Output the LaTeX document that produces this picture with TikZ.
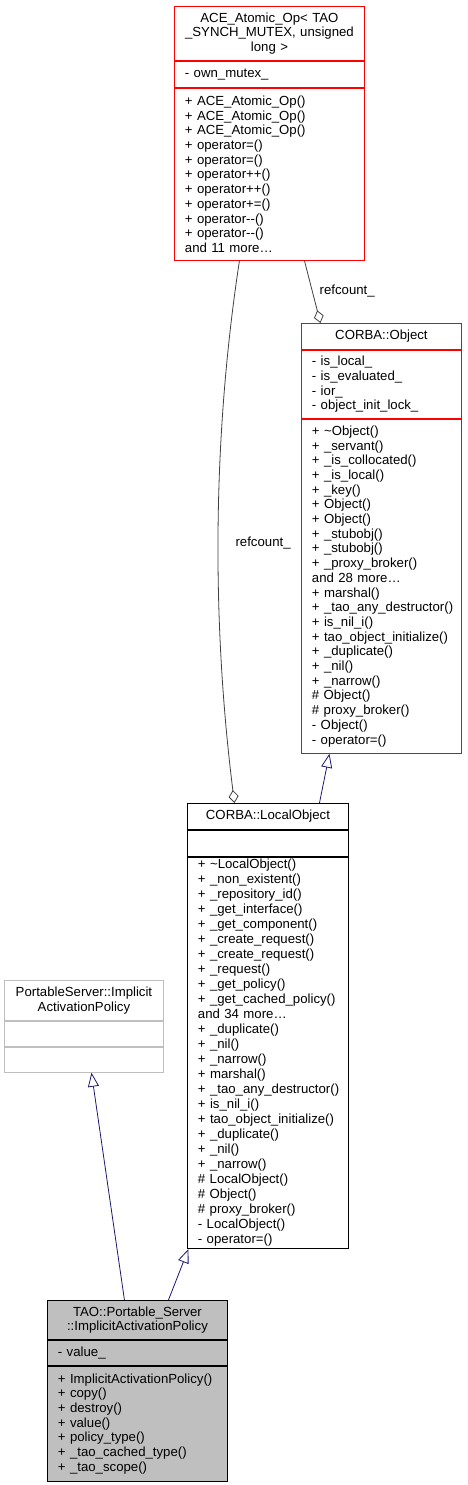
\documentclass[tikz,border=0pt]{standalone}
\usepackage{fontspec}
\setmainfont{Liberation Sans}
\usetikzlibrary{positioning, arrows.meta}
\definecolor{umlred}{HTML}{FF0000}
\definecolor{umlgray}{HTML}{BFBFBF}
\definecolor{edgegray}{HTML}{404040}
\definecolor{navyline}{HTML}{191970}
\newcommand{\umlfont}{\fontsize{13.2}{14.7}\selectfont}
\newcommand{\umlwidefont}{\fontsize{13.2}{15.0}\selectfont}
\begin{document}
\begin{tikzpicture}[
    x=1pt, y=-1pt,
    node distance = 0pt,
    member/.style={draw, line width=0.9pt, inner xsep=10.5pt, inner ysep=2pt, align=left, font=\umlfont, anchor=north},
    head/.style={member, inner xsep=9pt, align=center},
    sec/.style={minimum height=#1},
    acebox/.style={draw=umlred, text width=#1},
    objbox/.style={draw=umlred, text width=#1},
    lobjbox/.style={draw=black, text width=#1},
    psbox/.style={draw=umlgray, text width=#1},
    taobox/.style={draw=black, fill=umlgray, text width=#1},
    aggr/.style={draw=edgegray, line width=0.8pt, -{Diamond[open, length=13pt, width=10pt]}},
    inherit/.style={draw=navyline, line width=0.8pt, -{Triangle[open, length=14pt, width=11pt]}},
    lbl/.style={font=\umlfont, inner sep=2pt, anchor=west},
]
\useasboundingbox (0,0) rectangle (467,1485);

\node[head, acebox=172pt, sec=54pt, anchor=north west] (ace) at (174,6) {ACE\_Atomic\_Op\textless{} TAO\\\_SYNCH\_MUTEX, unsigned\\long \textgreater};
\node[member, acebox=169pt, sec=26pt, below=of ace] (ace-attr) {- own\_mutex\_};
\node[member, acebox=169pt, sec=172pt, below=of ace-attr] (ace-ops) {+ ACE\_Atomic\_Op()\\+ ACE\_Atomic\_Op()\\+ ACE\_Atomic\_Op()\\+ operator=()\\+ operator=()\\+ operator++()\\+ operator++()\\+ operator+=()\\+ operator-{}-()\\+ operator-{}-()\\and 11 more\ldots};

\node[head, objbox=142pt, sec=26pt, anchor=north west] (obj) at (301,323) {CORBA::Object};
\node[member, objbox=139pt, sec=68pt, below=of obj] (obj-attr) {- is\_local\_\\- is\_evaluated\_\\- ior\_\\- object\_init\_lock\_};
\node[member, objbox=139pt, sec=334pt, below=of obj-attr] (obj-ops) {+ \textasciitilde Object()\\+ \_servant()\\+ \_is\_collocated()\\+ \_is\_local()\\+ \_key()\\+ Object()\\+ Object()\\+ \_stubobj()\\+ \_stubobj()\\+ \_proxy\_broker()\\and 28 more\ldots\\+ marshal()\\+~\_tao\_any\_destructor()\\+ is\_nil\_i()\\+~tao\_object\_initialize()\\+ \_duplicate()\\+ \_nil()\\+ \_narrow()\\\# Object()\\\# proxy\_broker()\\- Object()\\- operator=()};

\node[head, lobjbox=143pt, sec=26pt, anchor=north west] (lobj) at (187,803) {CORBA::LocalObject};
\node[member, lobjbox=140pt, sec=26pt, below=of lobj] (lobj-attr) {};
\node[member, lobjbox=140pt, sec=391pt, font=\umlwidefont, below=of lobj-attr] (lobj-ops) {+ \textasciitilde LocalObject()\\+ \_non\_existent()\\+ \_repository\_id()\\+ \_get\_interface()\\+ \_get\_component()\\+ \_create\_request()\\+ \_create\_request()\\+ \_request()\\+ \_get\_policy()\\+ \_get\_cached\_policy()\\and 34 more\ldots\\+ \_duplicate()\\+ \_nil()\\+ \_narrow()\\+ marshal()\\+~\_tao\_any\_destructor()\\+ is\_nil\_i()\\+~tao\_object\_initialize()\\+ \_duplicate()\\+ \_nil()\\+ \_narrow()\\\# LocalObject()\\\# Object()\\\# proxy\_broker()\\- LocalObject()\\- operator=()};

\node[head, psbox=141pt, sec=40pt, anchor=north west] (ps) at (4,980) {PortableServer::Implicit\\ActivationPolicy};
\node[member, psbox=138pt, sec=25pt, below=of ps] (ps-attr) {};
\node[member, psbox=138pt, sec=25pt, below=of ps-attr] (ps-ops) {};

\node[head, taobox=162pt, sec=39pt, anchor=north west] (tao) at (47,1300) {TAO::Portable\_Server\\::ImplicitActivationPolicy};
\node[member, taobox=159pt, sec=25pt, below=of tao] (tao-attr) {- value\_};
\node[member, taobox=159pt, sec=115pt, below=of tao-attr] (tao-ops) {+ ImplicitActivationPolicy()\\+ copy()\\+ destroy()\\+ value()\\+ policy\_type()\\+ \_tao\_cached\_type()\\+ \_tao\_scope()};

\draw[aggr] ([xshift=35pt]ace-ops.south) -- ([xshift=-61pt]obj.north) node[lbl, pos=0.49, xshift=5pt] (rc1) {refcount\_};
\draw[aggr] ([xshift=-30pt]ace-ops.south) .. controls (212,440) and (212,624) .. ([xshift=-33.5pt]lobj.north) node[lbl, pos=0.52, xshift=15pt] (rc2) {refcount\_};
\draw[inherit] ([xshift=51.5pt]lobj.north) -- ([xshift=-52pt]obj-ops.south);
\draw[inherit] ([xshift=-13pt]tao.north) -- ([xshift=7.5pt]ps-ops.south);
\draw[inherit] ([xshift=31pt]tao.north) -- ([xshift=-79.5pt]lobj-ops.south);
\end{tikzpicture}
\end{document}
